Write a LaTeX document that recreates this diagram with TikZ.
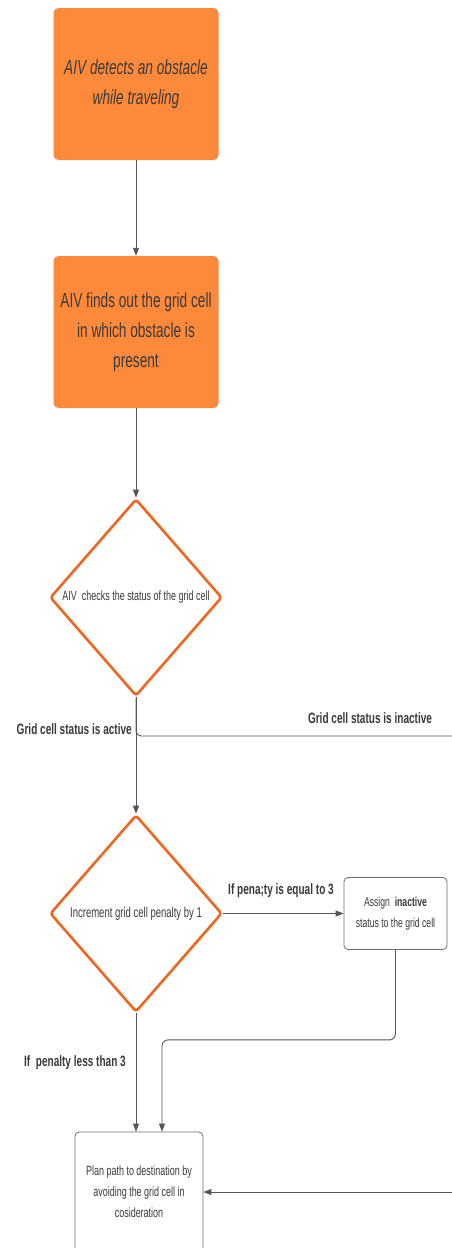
\documentclass[tikz,border=0pt]{standalone}
\usepackage{fontspec}
\setmainfont{Liberation Sans}[FakeStretch=0.67]
\usetikzlibrary{shapes.geometric,arrows.meta,calc}
\definecolor{orfill}{HTML}{FD8A3B}
\definecolor{ordraw}{HTML}{F0661E}
\definecolor{txt}{HTML}{3A3A3A}
\definecolor{ln}{HTML}{555555}
\definecolor{bx}{HTML}{6E6E6E}
\begin{document}
\begin{tikzpicture}[x=1pt,y=-1pt,
 obox/.style={rectangle, rounded corners=5pt, fill=orfill, draw=none, minimum width=165pt, minimum height=152pt, text=txt, align=center, font=\fontsize{20.4}{30}\selectfont, inner sep=0pt},
 dec/.style={diamond, draw=ordraw, line width=2.6pt, rounded corners=3pt, fill=white, minimum width=172pt, minimum height=197pt, inner sep=0pt, text=txt, font=\fontsize{13.4}{15}\selectfont},
 wbox/.style={rectangle, rounded corners=4pt, draw=bx, line width=0.8pt, align=center, text=txt, inner sep=0pt},
 conn/.style={draw=ln, line width=0.9pt},
 arr/.style={conn, -{Triangle[length=8pt,width=6pt]}},
 lbl/.style={text=txt, font=\bfseries\fontsize{15}{16}\selectfont, inner sep=0pt}
]
\useasboundingbox (0,0) rectangle (452,1248);
\fill[white] (0,0) rectangle (452,1248);
\clip (0,0) rectangle (452,1248);

\node[obox, font=\itshape\fontsize{20.4}{30}\selectfont] (b1) at (136,84) {AIV detects an obstacle\\while traveling};
\node[obox] (b2) at (136,332) {AIV finds out the grid cell\\in which obstacle is\\present};
\node[dec] (d1) at (136,597.5) {AIV\ \ checks the status of the grid cell};
\node[dec, font=\fontsize{14.2}{15}\selectfont] (d2) at (136,913.5) {Increment grid cell penalty by 1};
\node[wbox, minimum width=103pt, minimum height=72pt, font=\fontsize{12.9}{21}\selectfont] (b3) at (395.5,913.5) {Assign\ \ \textbf{inactive}\\status to the grid cell};
\node[wbox, minimum width=128pt, minimum height=120pt, font=\fontsize{13.4}{21}\selectfont] (b4) at (139,1192) {Plan path to destination by\\avoiding the grid cell in\\cosideration};

\coordinate (inR) at (452,736);
\coordinate (inR2) at (452,1192);

\draw[arr] (b1) -- (b2);
\draw[arr] (b2) -- (d1);
\draw[arr] (d1) -- (d2);
\draw[conn, rounded corners=5pt] (d1.south) |- (inR);
\draw[arr] (d2) -- (b3);
\draw[arr] (d2.south) -- (d2.south |- b4.north);
\draw[arr, rounded corners=6pt] (b3.south) -- ++(0,90) -| ([xshift=23pt]b4.north);
\draw[arr] (inR2) -- (b4.east);

\node[lbl, anchor=east] (l1) at (132,729) {Grid cell status is active};
\node[lbl] (l2) at (370,718) {Grid cell status is inactive};
\node[lbl] (l3) at (281,891) {If pena;ty is equal to 3};
\node[lbl] (l4) at (75,1063) {If\ \ penalty less than 3};
\end{tikzpicture}
\end{document}
